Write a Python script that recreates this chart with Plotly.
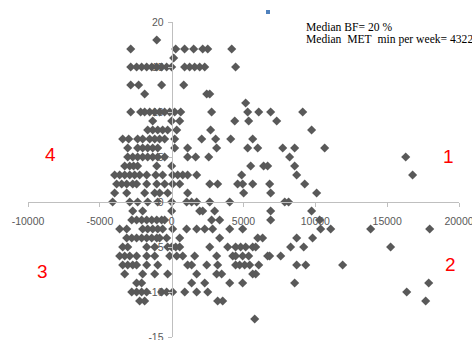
import plotly.graph_objects as go

# Change in MET min per week (x) and change in body fat % (y), read row by row
met_diff = [
    -1040,
    -2850, 280, 900, 1530, 2160, 2510, 4180,
    140,
    -2850, -2440, -2090, -1740, -1390, -1040, -700, -350, 0, 900, 1250, 1600, 1950, 2300, 4450,
    -2850, -2300, -700, 840,
    -1880, 2440, 2650,
    5150,
    -2850, -2160, -1880, -1530, -1180, -840, -490, -140, 210, 630, 2780, 5290, 6060, 6890, 9120,
    -1320, 0, 560, 4390, 5360, 7310,
    -1670, -1320, -970, -630, -280, 350, 2710, 9740,
    -3410, -2990, -2370, -2020, -1530, -1180, -840, -490, 210, 2090, 3060, 4110, 5640,
    -3060, -2370, -2020, -1670, -1320, -970, 210, 1110, 3130, 5290, 5990, 7730, 8560, 10650,
    -3060, -2710, -2370, -2020, -1670, -1320, -970, -490, 1110, 1670, 2580, 8210, 16290,
    -3270, -2920, -2650, -2370, -1040, 0, 5500, 6400, 6680, 8560,
    -3970, -3620, -3270, -2920, -2580, -2230, -1740, -1110, -630, 70, 420, 770, 1110, 1740, 4870, 8700, 16770,
    -3830, -3480, -3130, -2710, -2440, -1740, -1040, -490, 70, 560, 2650, 3200, 4590, 4940, 5640, 6820, 9260,
    -3970, -3130, -1880, -1180, -840, -280, 1110, 5010, 6890, 10090,
    -4110, -2920, -2370, -1670, -970, 0, 1040, 1390, 1740, 2650, 4040, 7870, 8140,
    -2710, -2020, 0, 1950, 2160, 2990, 6890, 9740,
    -2780, -2440, -2090, -1740, -1390, -1040, -700, -490, 2780, 3340, 6890, 10300,
    -3620, -3130, -2020, -1670, -1320, -970, -630, 70, 1040, 1740, 2300, 2850, 4040, 4940, 10370, 11070, 13850, 17960,
    -3130, -2780, -2440, -2090, -1740, -1390, -1040, -840, -350, 560, 3340, 5990, 6330, 8700, 9810,
    -3410, -3060, -1740, -1180, -280, 0, 280, 560, 2650, 3900, 4450, 4800, 5150, 5640, 5850, 8280, 9190, 15240,
    -3620, -3270, -2920, -2440, -1740, -1180, -140, 350, 770, 1600, 3130, 4250, 4450, 4940, 5360, 6680, 6820, 7590,
    -3410, -3060, -2710, -2440, -1740, -970, 1110, 1390, 2440, 3200, 4450, 4730, 5080, 5430, 6060, 8700, 9330, 11900,
    -3270, -2020, -1180, -280, 1740, 3130, 3480, 5640, 5850,
    -2440, -2090, 1390, 2300, 4040, 4940, 8560, 17890,
    -2780, -2440, -2090, -1740, -700, -350, 70, 910, 1740, 2510, 16360,
    -2230, -1880, 3200, 3550, 17680,
    5780,
]
bf_rows = [18, 17, 16, 15, 13, 12, 11, 10, 9, 8, 7, 6, 5, 4, 3, 2, 1, 0,
           -1, -2, -3, -4, -5, -6, -7, -8, -9, -10, -11, -13]
bf_row_counts = [1, 7, 1, 15, 4, 3, 1, 15, 6, 8, 13, 14, 13, 10, 17, 17, 10, 13,
                 8, 12, 18, 15, 18, 18, 18, 9, 8, 11, 5, 1]
bf_diff = [v for v, n in zip(bf_rows, bf_row_counts) for _ in range(n)]

x_ticks = [-10000, -5000, 0, 5000, 10000, 15000, 20000]
y_ticks = [-15, -10, -5, 0, 5, 10, 15, 20]

quad_labels = ["1", "2", "3", "4"]
quad_x = [19280, 19420, -8980, -8400]
quad_y = [5.1, -6.9, -7.7, 5.3]

notes = ["Median BF= 20 %", "Median\u00a0 MET\u00a0 min per week= 4322"]

fig = go.Figure()
fig.add_trace(go.Scatter(
    x=met_diff, y=bf_diff, mode="markers",
    marker=dict(symbol="diamond", size=7, color="#595959", line=dict(width=0)),
    showlegend=False, hoverinfo="x+y",
))

for t, qx, qy in zip(quad_labels, quad_x, quad_y):
    fig.add_annotation(x=qx, y=qy, xref="x", yref="y", text=t, showarrow=False,
                       font=dict(family="Liberation Sans, Arial", size=19, color="#FF0000"))

for i, t in enumerate(notes):
    fig.add_annotation(x=0.6404, y=0.984 - i * 0.041, xref="paper", yref="paper",
                       xanchor="left", yanchor="middle", text=t, showarrow=False,
                       font=dict(family="Liberation Serif, Times New Roman", size=11.6, color="#000000"))

fig.add_shape(type="rect", xref="paper", yref="paper",
              x0=0.5522, x1=0.5615, y0=1.0254, y1=1.0381,
              fillcolor="#4F81BD", line=dict(width=0))

axis_font = dict(family="Liberation Sans, Arial", size=10.5, color="#595959")
fig.update_layout(
    width=472, height=340,
    margin=dict(l=28, r=13, t=22, b=3, autoexpand=False),
    paper_bgcolor="white", plot_bgcolor="white",
    xaxis=dict(range=[-10000, 20000], tickvals=x_ticks, ticktext=[str(v) for v in x_ticks],
               showgrid=False, zeroline=False, showline=True, linecolor="#BFBFBF", linewidth=1,
               ticks="outside", ticklen=4, tickcolor="#BFBFBF", tickfont=axis_font,
               anchor="free", position=15 / 35, automargin=False,
               ticklabeloverflow="allow", ticklabelstandoff=5),
    yaxis=dict(range=[-15, 20], tickvals=y_ticks, ticktext=[str(v) for v in y_ticks],
               showgrid=False, zeroline=False, showline=True, linecolor="#BFBFBF", linewidth=1,
               ticks="outside", ticklen=4, tickcolor="#BFBFBF", tickfont=axis_font,
               anchor="free", position=1 / 3, automargin=False,
               ticklabeloverflow="allow", ticklabelstandoff=2),
    font=axis_font,
)

fig.write_html("out.html", config={"displayModeBar": False},
               post_script="document.body.style.margin='0px';document.body.style.overflow='hidden';")
